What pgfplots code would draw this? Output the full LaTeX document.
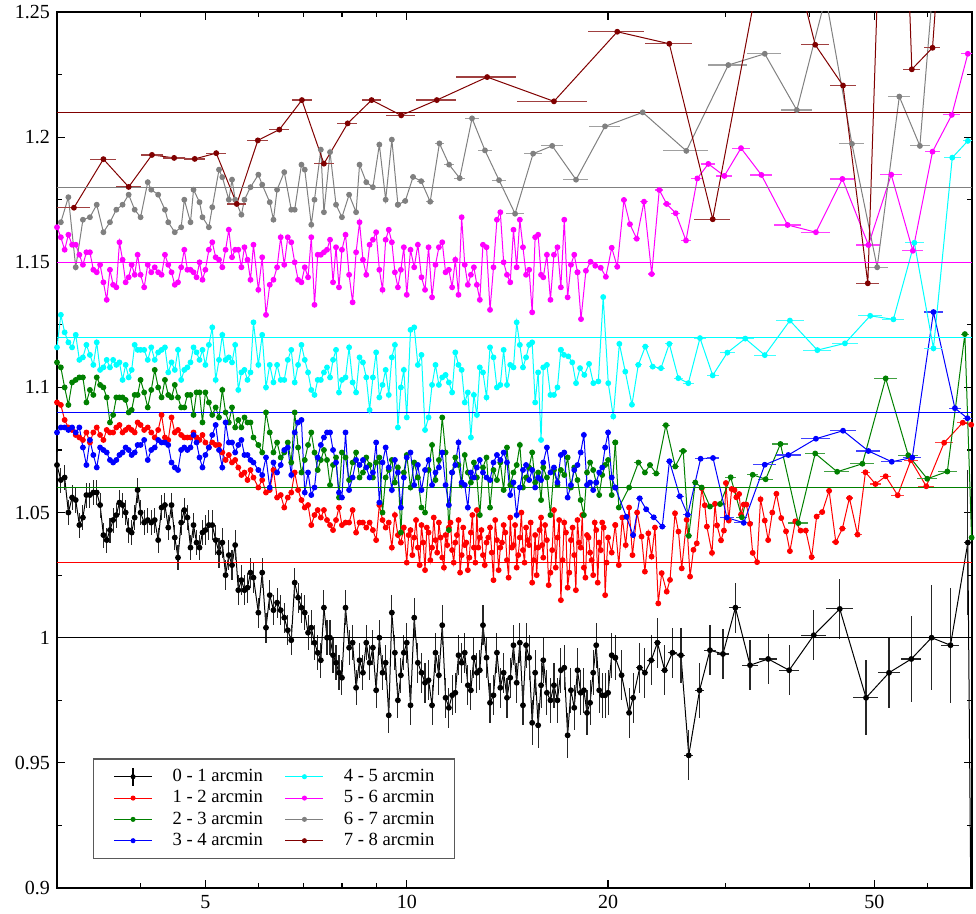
\documentclass[border=0pt]{standalone}
\usepackage{fontspec}
\setmainfont{Liberation Serif}
\usepackage{pgfplots}
\usepackage{pgfplotstable}
\pgfplotsset{compat=1.18}
\definecolor{cgreen}{RGB}{0,128,0}
\definecolor{cgray}{RGB}{128,128,128}
\definecolor{cdred}{RGB}{128,0,0}
\definecolor{ccyan}{RGB}{0,255,255}
\definecolor{cmag}{RGB}{255,0,255}
\definecolor{cred}{RGB}{255,0,0}
\definecolor{cblue}{RGB}{0,0,255}
\pgfplotsset{
  ser/.style={color=#1, line width=0.5pt, mark=*, mark size=1.2pt, mark options={solid}},
  hbar/.style={/pgfplots/error bars/x dir=both, /pgfplots/error bars/x explicit,
     /pgfplots/error bars/error mark=none, /pgfplots/error bars/error bar style={line width=0.6pt, #1}},
  myleg/.style={legend image code/.code={\draw[##1, mark repeat=2, mark phase=2] plot coordinates {(0pt,0pt) (9.5pt,0pt) (19pt,0pt)};}},
  blackleg/.style={legend image code/.code={\draw[##1, mark repeat=2, mark phase=2] plot coordinates {(0pt,0pt) (9.5pt,0pt) (19pt,0pt)}; \draw[overlay, black, line width=0.6pt] (9.5pt,-4.4pt) -- (9.5pt,4.4pt);}},
}
% dense part: x, black(k) with error ke, red, green, blue, cyan, magenta, gray
\pgfplotstableread{
x k ke r g b c m gr
3.00 1.069 0.005 1.094 1.110 1.082 1.116 1.164 nan
3.04 1.063 0.005 1.093 1.108 1.084 1.129 1.160 1.166
3.08 1.064 0.005 1.087 1.100 1.084 1.122 1.155 nan
3.12 1.050 0.005 1.084 1.093 1.083 1.118 1.161 1.176
3.16 1.056 0.005 1.083 1.102 1.084 1.116 1.157 nan
3.20 1.055 0.005 1.081 1.103 1.082 1.121 1.157 1.148
3.24 1.045 0.005 1.080 1.104 1.084 1.111 1.153 nan
3.28 1.048 0.005 1.079 1.104 1.076 1.112 1.149 1.167
3.32 1.057 0.005 1.082 1.094 1.069 1.117 1.154 nan
3.36 1.057 0.005 1.078 1.099 1.079 1.113 1.154 1.168
3.40 1.058 0.005 1.082 1.097 1.073 1.109 1.147 nan
3.44 1.058 0.005 1.084 1.104 1.068 1.118 1.146 1.173
3.48 1.053 0.005 1.081 1.101 1.076 1.107 1.149 nan
3.52 1.041 0.005 1.079 1.100 1.075 1.108 1.142 1.162
3.56 1.039 0.005 1.083 1.096 1.074 1.111 1.135 nan
3.60 1.043 0.005 1.082 1.086 1.071 1.108 1.147 1.166
3.64 1.047 0.005 1.082 1.089 1.070 1.111 1.141 nan
3.68 1.049 0.005 1.084 1.096 1.071 1.109 1.140 1.171
3.72 1.054 0.005 1.085 1.096 1.073 1.110 1.158 nan
3.76 1.053 0.005 1.082 1.096 1.074 1.103 1.151 1.173
3.80 1.050 0.005 1.083 1.095 1.076 1.109 1.142 nan
3.84 1.043 0.005 1.084 1.090 1.075 1.104 1.144 1.177
3.88 1.042 0.005 1.083 1.091 1.073 1.107 1.149 nan
3.92 1.048 0.005 1.082 1.097 1.074 1.117 1.145 1.171
3.96 1.059 0.005 1.086 1.097 1.077 1.115 1.153 nan
4.00 1.050 0.005 1.085 1.103 1.077 1.115 1.145 1.168
4.05 1.046 0.005 1.083 1.098 1.079 1.115 1.140 nan
4.10 1.047 0.005 1.084 1.092 1.071 1.111 1.149 1.182
4.15 1.046 0.005 1.082 1.099 1.075 1.116 1.146 1.179
4.20 1.047 0.005 1.080 1.107 1.076 1.111 1.148 nan
4.25 1.039 0.005 1.083 1.100 1.079 1.114 1.146 1.177
4.30 1.052 0.005 1.089 1.096 1.078 1.115 1.145 nan
4.35 1.053 0.005 1.080 1.103 1.078 1.116 1.153 1.171
4.40 1.044 0.005 1.079 1.097 1.077 1.106 1.149 1.166
4.45 1.053 0.005 1.088 1.096 1.070 1.110 1.146 nan
4.50 1.040 0.005 1.082 1.101 1.068 1.107 1.141 1.162
4.55 1.032 0.005 1.083 1.096 1.067 1.115 1.142 nan
4.60 1.046 0.005 1.081 1.092 1.075 1.103 1.148 1.164
4.65 1.051 0.005 1.080 1.092 1.076 1.107 1.155 1.175
4.70 1.048 0.005 1.080 1.097 1.075 1.108 1.147 nan
4.75 1.036 0.005 1.080 1.097 1.076 1.110 1.147 1.166
4.80 1.045 0.005 1.082 1.089 1.081 1.116 1.146 1.179
4.85 1.038 0.005 1.080 1.098 1.078 1.114 1.144 nan
4.90 1.036 0.005 1.079 1.098 1.072 1.111 1.150 1.174
4.95 1.042 0.005 1.081 1.086 1.068 1.115 1.143 1.168
5.00 1.043 0.006 1.078 1.098 1.073 1.109 1.147 nan
5.06 1.045 0.006 1.076 1.094 1.076 1.117 1.155 1.164
5.12 1.045 0.006 1.078 1.089 1.081 1.124 1.158 1.172
5.18 1.039 0.006 1.077 1.092 1.085 1.103 1.152 nan
5.24 1.034 0.006 1.077 1.088 1.075 1.111 1.151 1.187
5.30 1.038 0.006 1.074 1.099 1.068 1.121 1.148 1.184
5.36 1.025 0.006 1.071 1.090 1.086 1.111 1.155 nan
5.42 1.033 0.006 1.073 1.086 1.078 1.112 1.163 1.175
5.48 1.029 0.006 1.070 1.092 1.078 1.110 1.152 1.183
5.54 1.037 0.006 1.071 1.084 1.074 1.117 1.155 1.175
5.60 1.019 0.006 1.068 1.087 1.077 1.099 1.155 nan
5.66 1.023 0.006 1.065 1.084 1.079 1.106 1.148 1.169
5.72 1.019 0.006 1.066 1.088 1.073 1.107 1.156 1.175
5.78 1.020 0.006 1.063 1.086 1.073 1.103 1.151 nan
5.84 1.026 0.006 1.067 1.086 1.071 1.106 1.143 1.180
5.90 1.024 0.006 1.064 1.080 1.070 1.126 1.157 nan
6.00 1.010 0.006 1.060 1.077 1.067 1.109 1.139 1.185
6.08 1.026 0.006 1.063 1.074 1.065 1.121 1.152 1.181
6.16 1.004 0.006 1.058 1.090 1.072 1.100 1.129 nan
6.24 1.017 0.006 1.059 1.082 1.060 1.109 1.141 1.174
6.32 1.011 0.006 1.067 1.074 1.070 1.102 1.143 1.167
6.40 1.014 0.006 1.056 1.078 1.066 1.109 1.148 1.179
6.48 1.011 0.006 1.057 1.072 1.069 1.103 1.160 nan
6.56 1.008 0.006 1.052 1.074 1.075 1.103 1.149 1.186
6.64 1.003 0.006 1.056 1.078 1.076 1.111 1.160 nan
6.72 0.999 0.006 1.058 1.070 1.065 1.115 1.158 1.171
6.80 1.022 0.006 1.066 1.090 1.082 1.102 1.150 1.171
6.88 1.016 0.006 1.059 1.076 1.086 1.109 1.143 nan
6.96 1.012 0.006 1.055 1.066 1.087 1.117 1.142 1.189
7.04 1.010 0.007 1.052 1.071 1.058 1.111 1.148 1.187
7.12 1.002 0.007 1.053 1.077 1.066 1.106 1.144 nan
7.20 1.004 0.007 1.045 1.082 1.057 1.099 1.160 1.165
7.28 0.998 0.007 1.049 1.074 1.060 1.097 1.133 1.175
7.36 0.994 0.007 1.051 1.067 1.072 1.103 1.153 nan
7.44 0.991 0.007 1.048 1.071 1.077 1.103 1.153 1.195
7.52 1.012 0.007 1.051 1.075 1.080 1.106 1.154 1.170
7.60 1.000 0.007 1.047 1.071 1.082 1.108 1.155 nan
7.68 1.000 0.007 1.045 1.061 1.082 1.104 1.159 1.194
7.76 0.993 0.007 1.043 1.069 1.075 1.111 1.142 nan
7.84 0.990 0.007 1.047 1.072 1.070 1.115 1.156 1.173
7.92 0.986 0.007 1.052 1.056 1.058 1.098 1.140 nan
8.00 0.984 0.007 1.045 1.074 1.056 1.103 1.155 1.168
8.10 1.012 0.007 1.046 1.072 1.082 1.104 1.161 nan
8.20 0.996 0.007 1.046 1.063 1.059 1.116 1.145 1.177
8.30 0.998 0.007 1.051 1.070 1.064 1.102 1.134 nan
8.40 0.980 0.007 1.042 1.074 1.071 1.098 1.154 1.170
8.50 0.991 0.007 1.046 1.064 1.069 1.112 1.166 1.189
8.60 0.986 0.007 1.046 1.066 1.071 1.110 1.151 nan
8.70 0.998 0.007 1.044 1.072 1.068 1.104 1.145 1.182
8.80 0.990 0.007 1.046 1.069 1.064 1.091 1.157 nan
8.90 0.996 0.007 1.043 1.064 1.066 1.104 1.159 1.180
9.00 0.979 0.007 1.039 1.070 1.078 1.114 1.162 nan
9.10 1.000 0.007 1.053 1.072 1.054 1.096 1.147 1.197
9.20 0.986 0.007 1.047 1.050 1.070 1.101 1.139 nan
9.30 0.990 0.007 1.044 1.064 1.076 1.107 1.159 1.175
9.40 0.969 0.007 1.046 1.067 1.068 1.097 1.163 nan
9.50 1.010 0.007 1.036 1.071 1.059 1.112 1.158 1.199
9.60 0.994 0.007 1.049 1.062 1.071 1.117 1.146 nan
9.70 0.975 0.007 1.041 1.068 1.066 1.084 1.140 1.173
9.80 0.985 0.007 1.038 1.042 1.052 1.100 1.147 nan
9.90 0.994 0.007 1.044 1.066 1.064 1.107 1.156 nan
10.00 0.998 0.008 1.030 1.073 1.072 1.088 1.137 nan
10.065 nan nan 1.041 nan nan nan nan nan
10.13 0.973 0.008 1.043 1.060 1.074 1.123 1.155 nan
10.195 nan nan 1.033 nan nan nan nan nan
10.26 1.008 0.008 1.040 1.070 1.061 1.124 1.148 nan
10.325 nan nan 1.047 nan nan nan nan nan
10.39 0.990 0.008 1.036 1.064 1.069 1.109 1.157 nan
10.455 nan nan 1.029 nan nan nan nan nan
10.52 0.986 0.008 1.045 1.052 1.059 1.113 1.144 nan
10.585 nan nan 1.038 nan nan nan nan nan
10.65 0.982 0.008 1.027 1.050 1.067 1.083 1.139 nan
10.715 nan nan 1.044 nan nan nan nan nan
10.78 0.983 0.008 1.042 1.067 1.071 1.088 1.156 nan
10.845 nan nan 1.031 nan nan nan nan nan
10.91 0.973 0.008 1.036 1.077 1.061 1.101 1.136 nan
10.975 nan nan 1.048 nan nan nan nan nan
11.04 0.994 0.008 1.039 1.063 1.066 1.109 1.149 nan
11.105 nan nan 1.034 nan nan nan nan nan
11.17 0.985 0.008 1.046 1.071 1.068 1.101 1.156 nan
11.235 nan nan 1.040 nan nan nan nan nan
11.30 1.005 0.008 1.032 1.088 1.074 1.104 1.158 nan
11.365 nan nan 1.028 nan nan nan nan nan
11.43 0.976 0.008 1.041 1.074 1.061 1.105 1.146 nan
11.495 nan nan 1.037 nan nan nan nan nan
11.56 0.972 0.008 1.044 1.043 1.053 1.102 1.147 nan
11.625 nan nan 1.046 nan nan nan nan nan
11.69 0.977 0.008 1.035 1.066 1.066 1.098 1.140 nan
11.755 nan nan 1.030 nan nan nan nan nan
11.82 0.978 0.008 1.038 1.072 1.069 1.114 1.151 nan
11.885 nan nan 1.041 nan nan nan nan nan
11.95 0.993 0.008 1.047 1.069 1.078 1.109 1.137 nan
12.015 nan nan 1.026 nan nan nan nan nan
12.08 0.990 0.008 1.033 1.061 1.062 1.107 1.168 nan
12.145 nan nan 1.044 nan nan nan nan nan
12.21 0.994 0.008 1.037 1.073 1.061 1.094 1.149 nan
12.275 nan nan 1.038 nan nan nan nan nan
12.34 0.981 0.008 1.027 1.066 1.052 1.098 1.141 nan
12.405 nan nan 1.032 nan nan nan nan nan
12.47 0.979 0.008 1.042 1.062 1.066 1.080 1.145 nan
12.535 nan nan 1.049 nan nan nan nan nan
12.60 0.992 0.008 1.036 1.070 1.064 1.097 1.148 nan
12.665 nan nan 1.030 nan nan nan nan nan
12.73 0.986 0.008 1.051 1.064 1.068 1.089 1.141 nan
12.795 nan nan 1.036 nan nan nan nan nan
12.86 0.987 0.008 1.040 1.049 1.071 1.108 1.135 nan
12.93 nan nan 1.043 nan nan nan nan nan
13.00 1.005 0.008 1.033 1.068 1.066 1.106 1.157 nan
13.08 nan nan 1.029 nan nan nan nan nan
13.16 0.992 0.008 1.038 1.072 1.064 1.096 1.156 nan
13.24 nan nan 1.040 nan nan nan nan nan
13.32 0.974 0.008 1.044 1.052 1.063 1.116 1.131 nan
13.40 nan nan 1.034 nan nan nan nan nan
13.48 0.977 0.008 1.023 1.067 1.070 1.112 1.148 nan
13.56 nan nan 1.047 nan nan nan nan nan
13.64 0.994 0.008 1.039 1.063 1.073 1.100 1.167 nan
13.72 nan nan 1.027 nan nan nan nan nan
13.80 0.980 0.008 1.036 1.070 1.071 1.101 1.170 nan
13.88 nan nan 1.038 nan nan nan nan nan
13.96 0.986 0.008 1.045 1.059 1.074 1.115 1.150 nan
14.04 nan nan 1.042 nan nan nan nan nan
14.12 0.976 0.008 1.031 1.076 1.070 1.101 1.145 nan
14.20 nan nan 1.024 nan nan nan nan nan
14.28 0.984 0.008 1.048 1.061 1.057 1.109 1.142 nan
14.36 nan nan 1.036 nan nan nan nan nan
14.44 0.997 0.008 1.037 1.066 1.062 1.108 1.163 nan
14.52 nan nan 1.045 nan nan nan nan nan
14.60 0.982 0.008 1.028 1.069 1.049 1.126 1.148 nan
14.68 nan nan 1.033 nan nan nan nan nan
14.76 0.998 0.008 1.040 1.077 1.060 1.117 1.167 nan
14.84 nan nan 1.050 nan nan nan nan nan
14.92 0.973 0.008 1.035 1.060 1.067 1.108 1.156 nan
15.00 nan nan 1.030 nan nan nan nan nan
15.08 0.997 0.009 1.044 1.064 1.069 1.112 1.145 nan
15.16 nan nan 1.039 nan nan nan nan nan
15.24 0.992 0.009 1.037 1.068 1.063 1.117 1.147 nan
15.32 nan nan 1.046 nan nan nan nan nan
15.40 0.966 0.009 1.022 1.074 1.067 1.118 1.130 nan
15.48 nan nan 1.031 nan nan nan nan nan
15.56 0.986 0.009 1.041 1.062 1.060 1.094 1.160 nan
15.64 nan nan 1.025 nan nan nan nan nan
15.72 0.965 0.009 1.036 1.066 1.064 1.106 1.161 nan
15.80 nan nan 1.043 nan nan nan nan nan
15.88 0.981 0.009 1.048 1.055 1.063 1.079 1.145 nan
15.94 nan nan 1.037 nan nan nan nan nan
16.00 0.991 0.009 1.032 1.068 1.070 1.108 1.144 nan
16.10 nan nan 1.045 nan nan nan nan nan
16.20 0.978 0.009 1.039 1.064 1.076 1.109 1.153 nan
16.30 nan nan 1.021 nan nan nan nan nan
16.40 0.975 0.009 1.026 1.049 1.066 1.097 1.135 nan
16.50 nan nan 1.035 nan nan nan nan nan
16.60 0.981 0.009 1.051 1.067 1.068 1.097 1.153 nan
16.70 nan nan 1.028 nan nan nan nan nan
16.80 0.975 0.009 1.040 1.061 1.062 1.100 1.156 nan
16.90 nan nan 1.047 nan nan nan nan nan
17.00 0.987 0.009 1.015 1.067 1.073 1.115 1.140 nan
17.10 nan nan 1.031 nan nan nan nan nan
17.20 0.988 0.009 1.046 1.065 1.074 nan 1.167 nan
17.30 nan nan 1.042 nan nan nan nan nan
17.40 0.961 0.009 1.020 1.072 1.056 nan 1.136 nan
17.50 nan nan 1.026 nan nan nan nan nan
17.60 0.979 0.009 1.039 1.060 1.061 nan 1.149 nan
17.70 nan nan 1.044 nan nan nan nan nan
17.80 0.972 0.009 1.033 1.068 1.067 nan 1.153 nan
17.90 nan nan 1.019 nan nan nan nan nan
18.00 0.987 0.009 1.047 1.063 1.069 nan 1.146 nan
18.10 nan nan 1.038 nan nan nan nan nan
18.20 0.978 0.009 1.036 1.055 1.074 nan nan nan
18.30 nan nan 1.049 nan nan nan nan nan
18.40 0.979 0.009 1.028 1.049 1.081 nan nan nan
18.50 nan nan 1.024 nan nan nan nan nan
18.60 0.970 0.009 1.041 1.066 1.061 nan nan nan
18.70 nan nan 1.040 nan nan nan nan nan
18.80 0.974 0.009 1.034 1.070 1.062 nan nan nan
18.90 nan nan 1.031 nan nan nan nan nan
19.00 0.986 0.009 1.025 1.067 1.059 nan nan nan
19.10 nan nan 1.046 nan nan nan nan nan
19.20 0.997 0.009 1.043 1.062 1.062 nan nan nan
19.30 nan nan 1.022 nan nan nan nan nan
19.40 0.979 0.009 1.038 1.057 1.066 nan nan nan
19.50 nan nan 1.035 nan nan nan nan nan
19.60 0.977 0.009 1.046 1.065 1.068 nan nan nan
19.70 nan nan 1.044 nan nan nan nan nan
19.80 0.977 0.009 1.017 1.069 1.076 nan nan nan
19.90 nan nan 1.030 nan nan nan nan nan
20.00 0.978 0.009 1.040 1.071 1.082 nan nan nan
20.25 0.993 0.009 1.034 1.057 1.064 nan nan nan
20.50 0.992 0.009 1.045 1.078 1.060 nan nan nan
}\dense
\pgfplotstableread{
x y ex ey
20.50 0.992 0 0.009
20.95 0.985 0.2 0.010
21.5 0.970 0.25 0.010
21.8 0.976 0.2 0.010
22.3 0.988 0.25 0.010
22.7 0.986 0.25 0.010
23.2 0.991 0.3 0.010
23.7 0.998 0.3 0.010
24.3 0.987 0.3 0.010
24.96 0.994 0.35 0.010
25.7 0.993 0.35 0.011
26.4 0.953 0.4 0.010
27.4 0.979 0.45 0.011
28.4 0.995 0.55 0.010
29.7 0.9935 0.6 0.010
31.0 1.012 0.65 0.010
32.6 0.989 0.9 0.010
34.7 0.9915 1.1 0.010
37.3 0.987 1.3 0.010
40.6 1.001 1.8 0.010
44.4 1.0115 2.0 0.012
48.6 0.976 2.1 0.015
52.6 0.986 2.0 0.014
56.8 0.9915 2.0 0.017
60.9 1.000 2.0 0.021
65.0 0.997 2.0 0.023
69.0 1.038 0.8 0.029
69.9 0.86 0 0.04
}\blacks
\pgfplotstableread{
x y ex
20.50 1.045 0
20.75 1.029 0.1
21.0 1.048 0.1
21.25 1.037 0.1
21.5 1.052 0.1
21.75 1.033 0.1
22.1 1.050 0.1
22.44 1.0404 0.1
22.70 1.0264 0.1
22.97 1.0417 0.1
23.23 1.0324 0.1
23.5 1.044 0.1
23.77 1.0137 0.1
24.05 1.0258 0.1
24.47 1.0184 0.1
24.75 1.0231 0.1
25.18 1.0497 0.1
25.48 1.0424 0.1
25.77 1.0277 0.1
26.21 1.0471 0.1
26.52 1.0244 0.1
26.83 1.0351 0.1
27.14 1.0377 0.1
27.61 1.0597 0.1
27.9 1.0529 0.1
28.1 1.0444 0.1
28.6 1.0339 0.1
28.9 1.0535 0.1
29.1 1.0449 0.1
29.5 1.0389 0.15
29.8 1.0428 0.15
30.0 1.0618 0.15
30.3 1.0468 0.15
30.6 1.0594 0.15
30.9 1.0590 0.15
31.1 1.0561 0.15
31.4 1.0574 0.15
31.6 1.0492 0.15
31.9 1.0532 0.15
32.2 1.0532 0.2
32.6 1.0455 0.2
32.9 1.0339 0.2
33.4 1.0302 0.25
33.8 1.0553 0.25
34.3 1.0468 0.25
34.7 1.0390 0.25
35.2 1.0500 0.25
35.7 1.0575 0.3
36.3 1.0478 0.3
36.9 1.0425 0.3
37.4 1.0346 0.3
38.1 1.0465 0.35
38.8 1.0428 0.35
39.5 1.0428 0.4
40.3 1.0322 0.4
41.0 1.0484 0.4
41.8 1.0502 0.45
42.8 1.0587 0.5
43.8 1.0382 0.5
44.8 1.0436 0.55
45.9 1.0558 0.6
47.2 1.0412 0.65
48.5 1.0661 0.75
50.2 1.0614 0.9
52.0 1.0645 0.95
54.2 1.0569 1.2
56.7 1.0709 1.4
59.8 1.0605 1.6
63.6 1.0779 2.0
67.8 1.0859 1.3
69.8 1.0851 0.5
}\reds
\pgfplotstableread{
x y ex
20.50 1.078 0
20.75 1.052 0.12
21.5 1.060 0.3
22.2 1.070 0.3
22.7 1.066 0.25
23.1 1.069 0.25
23.6 1.0656 0.3
24.4 1.0849 0.35
25.2 1.0684 0.35
25.9 1.0746 0.35
26.4 1.0407 0.3
27.0 1.0620 0.3
27.6 1.0600 0.35
28.4 1.0524 0.4
29.4 1.0534 0.5
30.5 1.0641 0.55
31.7 1.0481 0.6
32.9 1.0651 0.65
34.4 1.0633 0.9
36.2 1.0774 1.0
38.5 1.0458 1.3
40.8 1.0736 1.4
44.0 1.0663 1.9
48.0 1.0695 2.0
52.0 1.1036 2.0
56.2 1.0729 2.0
60.0 1.0635 2.0
64.3 1.0664 2.1
68.3 1.1213 0.9
69.9 1.040 0.2
}\greens
\pgfplotstableread{
x y ex
20.50 1.060 0
21.3 1.0483 0.2
21.8 1.0410 0.2
22.3 1.0557 0.25
22.8 1.0513 0.25
23.4 1.0481 0.3
24.1 1.0444 0.3
24.7 1.0705 0.3
25.6 1.0565 0.35
26.3 1.0491 0.4
27.5 1.0715 0.5
28.7 1.0718 0.6
30.1 1.0480 0.7
31.9 1.0459 1.0
34.3 1.0691 1.4
37.2 1.0730 1.6
40.9 1.0795 2.0
44.9 1.0827 2.0
49.0 1.0746 2.0
53.1 1.0703 2.0
57.0 1.0720 1.8
61.3 1.1301 2.0
66.0 1.0917 1.4
68.9 1.0877 1.0
}\blues
\pgfplotstableread{
x y ex
17.00 1.115 0
17.18 1.1130 0.08
17.44 1.1124 0.08
17.68 1.1100 0.08
17.91 1.1017 0.1
18.16 1.1077 0.1
18.43 1.1050 0.1
18.73 1.1094 0.12
19.01 1.1017 0.12
19.34 1.1024 0.14
19.67 1.1361 0.14
20.01 1.1017 0.15
20.36 1.0884 0.18
20.79 1.1174 0.2
21.22 1.1063 0.2
21.71 1.0931 0.22
22.19 1.1090 0.25
22.73 1.1163 0.28
23.32 1.1083 0.3
23.99 1.1077 0.32
24.69 1.1174 0.35
25.47 1.1037 0.4
26.36 1.1017 0.5
27.44 1.1197 0.55
28.67 1.1048 0.6
30.15 1.1139 0.8
32.07 1.1195 1.0
34.3 1.1129 1.3
37.4 1.1267 1.8
41.1 1.1149 2.0
45.2 1.1176 2.0
49.3 1.1286 2.1
53.4 1.1272 2.0
57.4 1.1578 1.9
61.3 1.1156 1.9
65.4 1.1918 1.9
69.0 1.1985 1.2
}\cyans
\pgfplotstableread{
x y ex
18.00 1.146 0
18.22 1.1273 0.1
18.53 1.1466 0.12
18.83 1.1502 0.12
19.14 1.1486 0.14
19.50 1.1478 0.15
19.85 1.1442 0.16
20.25 1.1558 0.18
20.64 1.1482 0.2
21.12 1.1749 0.22
21.56 1.1652 0.24
22.07 1.1594 0.26
22.63 1.1742 0.28
23.24 1.1453 0.3
23.85 1.1789 0.32
24.47 1.1733 0.35
25.24 1.1696 0.4
26.15 1.1587 0.45
27.19 1.1835 0.55
28.24 1.1893 0.7
29.84 1.1845 0.8
31.6 1.1956 1.0
33.9 1.1849 1.3
37.1 1.1649 1.7
40.9 1.1620 2.0
44.8 1.1833 1.9
49.0 1.1569 2.0
53.0 1.1850 2.0
57.1 1.1546 2.0
61.1 1.1942 1.5
65.3 1.2089 1.9
69.0 1.2333 1.6
}\magentas
\pgfplotstableread{
x y ex
9.70 1.173 0
9.95 1.1745 0.1
10.22 1.1841 0.12
10.51 1.1824 0.14
10.84 1.1742 0.16
11.19 1.1975 0.18
11.57 1.1890 0.2
12.00 1.1836 0.24
12.52 1.2075 0.29
13.09 1.1947 0.3
13.74 1.1828 0.35
14.52 1.1694 0.45
15.45 1.1934 0.48
16.50 1.1965 0.61
17.91 1.1830 0.77
19.79 1.2043 1.07
22.53 1.2099 1.65
26.18 1.1945 2.0
30.25 1.2288 2.0
34.3 1.2333 2.0
38.3 1.2108 2.0
42.3 1.256 2.0
46.3 1.1973 2.0
50.5 1.1480 2.0
54.5 1.2162 2.0
58.5 1.1965 2.0
64.3 1.33 2.0
}\grays
\pgfplotstableread{
x y ex
3.18 1.1718 0.18
3.52 1.1912 0.16
3.84 1.1801 0.16
4.16 1.1929 0.16
4.49 1.1917 0.17
4.82 1.1913 0.17
5.19 1.1936 0.18
5.57 1.1733 0.19
5.99 1.1987 0.21
6.45 1.2030 0.22
6.97 1.2148 0.24
7.52 1.1894 0.26
8.16 1.2055 0.28
8.86 1.2148 0.3
9.81 1.2087 0.49
11.09 1.2148 0.76
13.19 1.2240 1.36
16.6 1.2143 2.0
20.64 1.2421 2.0
24.69 1.2373 2.0
28.67 1.1672 1.8
35.6 1.30 2.0
40.8 1.2369 2.0
44.9 1.2206 2.0
48.9 1.1416 2.0
53.3 1.445 2.0
56.9 1.2271 1.7
61.1 1.2357 1.7
66.0 1.36 2.0
}\dreds
\begin{document}
\begin{tikzpicture}
\begin{axis}[
  scale only axis, width=457.5pt, height=438pt,
  xmode=log, xmin=3, xmax=70, ymin=0.9, ymax=1.25,
  xtick={5,10,20,50}, xticklabels={5,10,20,50},
  minor xtick={4,6,7,8,9,30,40,60},
  ytick={0.9,0.95,1,1.05,1.1,1.15,1.2,1.25},
  yticklabels={0.9,0.95,1,1.05,1.1,1.15,1.2,1.25},
  minor ytick={0.925,0.975,1.025,1.075,1.125,1.175,1.225},
  tick align=inside, major tick length=4pt, minor tick length=2.5pt,
  every tick/.style={black, line width=0.6pt},
  axis line style={line width=0.8pt},
  ticklabel style={font=\fontsize{10}{12}\selectfont},
  /pgf/number format/assume math mode=true,
  legend columns=2, legend cell align=left,
  myleg,
  legend style={at={(0.0393,0.0331)}, anchor=south west, draw=black!65, line width=0.6pt, fill=white,
     font=\fontsize{9.3}{11}\selectfont, inner xsep=10pt, inner ysep=3.5pt,
     nodes={inner xsep=0pt, inner ysep=1.5pt},
     /tikz/every odd column/.append style={column sep=10pt},
     /tikz/every even column/.append style={column sep=11pt}},
]
% data
\addplot[ser=black, forget plot, /pgfplots/error bars/y dir=both, /pgfplots/error bars/y explicit,
  /pgfplots/error bars/error mark=none, /pgfplots/error bars/error bar style={line width=0.55pt, black!85}]
  table[x=x, y=k, y error=ke] {\dense};
\addplot[ser=black, forget plot, /pgfplots/error bars/y dir=both, /pgfplots/error bars/y explicit,
  /pgfplots/error bars/x dir=both, /pgfplots/error bars/x explicit,
  /pgfplots/error bars/error mark=none, /pgfplots/error bars/error bar style={line width=0.55pt, black!85}]
  table[x=x, y=y, x error=ex, y error=ey] {\blacks};
\addplot[ser=cred, forget plot] table[x=x, y=r] {\dense};
\addplot[ser=cred, forget plot, hbar=cred!75] table[x=x, y=y, x error=ex] {\reds};
\addplot[ser=cgreen, forget plot] table[x=x, y=g] {\dense};
\addplot[ser=cgreen, forget plot, hbar=cgreen!75] table[x=x, y=y, x error=ex] {\greens};
\addplot[ser=cblue, forget plot] table[x=x, y=b] {\dense};
\addplot[ser=cblue, forget plot, hbar=cblue!75] table[x=x, y=y, x error=ex] {\blues};
\addplot[ser=ccyan, forget plot] table[x=x, y=c] {\dense};
\addplot[ser=ccyan, forget plot, hbar=ccyan!75] table[x=x, y=y, x error=ex] {\cyans};
\addplot[ser=cmag, forget plot] table[x=x, y=m] {\dense};
\addplot[ser=cmag, forget plot, hbar=cmag!75] table[x=x, y=y, x error=ex] {\magentas};
\addplot[ser=cgray, forget plot] table[x=x, y=gr] {\dense};
\addplot[ser=cgray, forget plot, hbar=cgray!75] table[x=x, y=y, x error=ex] {\grays};
\addplot[ser=cdred, forget plot, hbar=cdred!75] table[x=x, y=y, x error=ex] {\dreds};
% reference levels
\addplot[black, line width=0.6pt, forget plot] coordinates {(3,1.00) (70,1.00)};
\addplot[cred, line width=0.6pt, forget plot] coordinates {(3,1.03) (70,1.03)};
\addplot[cgreen, line width=0.6pt, forget plot] coordinates {(3,1.06) (70,1.06)};
\addplot[cblue, line width=0.6pt, forget plot] coordinates {(3,1.09) (70,1.09)};
\addplot[ccyan, line width=0.6pt, forget plot] coordinates {(3,1.12) (70,1.12)};
\addplot[cmag, line width=0.6pt, forget plot] coordinates {(3,1.15) (70,1.15)};
\addplot[cgray, line width=0.6pt, forget plot] coordinates {(3,1.18) (70,1.18)};
\addplot[cdred, line width=0.6pt, forget plot] coordinates {(3,1.21) (70,1.21)};
% legend (row-wise, two columns)
\addlegendimage{ser=black, mark size=1pt, blackleg}
\addlegendentry{0 - 1 arcmin}
\addlegendimage{ser=ccyan, mark size=1pt}
\addlegendentry{4 - 5 arcmin}
\addlegendimage{ser=cred, mark size=1pt}
\addlegendentry{1 - 2 arcmin}
\addlegendimage{ser=cmag, mark size=1pt}
\addlegendentry{5 - 6 arcmin}
\addlegendimage{ser=cgreen, mark size=1pt}
\addlegendentry{2 - 3 arcmin}
\addlegendimage{ser=cgray, mark size=1pt}
\addlegendentry{6 - 7 arcmin}
\addlegendimage{ser=cblue, mark size=1pt}
\addlegendentry{3 - 4 arcmin}
\addlegendimage{ser=cdred, mark size=1pt}
\addlegendentry{7 - 8 arcmin}
\end{axis}
\pgfresetboundingbox
\path ([xshift=-28.5pt,yshift=-13pt]current axis.south west) rectangle ([xshift=2pt,yshift=6pt]current axis.north east);
\end{tikzpicture}
\end{document}
